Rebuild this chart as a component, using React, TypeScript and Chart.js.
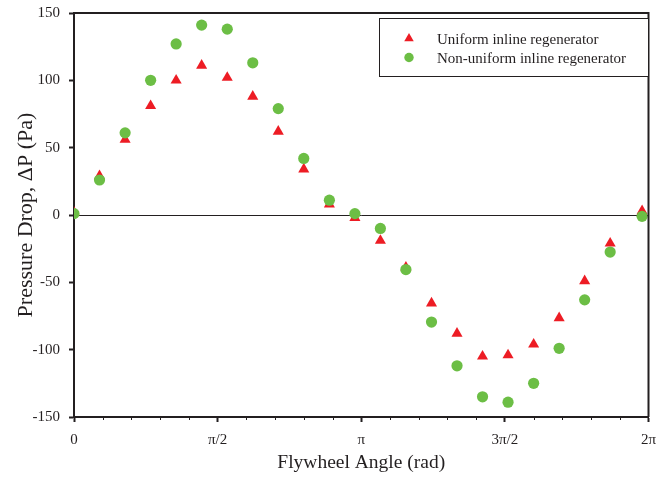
import React, { useEffect, useRef } from "react";
import { Chart, registerables } from "chart.js";

Chart.register(...registerables);

const angleRad = [0, 0.279, 0.559, 0.838, 1.117, 1.396, 1.676, 1.955, 2.234, 2.513, 2.793, 3.072, 3.351, 3.63, 3.91, 4.189, 4.468, 4.747, 5.027, 5.306, 5.585, 5.864, 6.213];
const uniformDP = [2, 29, 56, 81, 100, 111, 102, 88, 62, 34, 8, -2, -19, -39, -65.5, -88, -105, -104, -96, -76.5, -49, -21, 3];
const nonUniformDP = [1, 26, 61, 100, 127, 141, 138, 113, 79, 42, 11, 1, -10, -40.5, -79.5, -112, -135, -139, -125, -99, -63, -27.5, -1];
const xTickValues = [0, Math.PI / 2, Math.PI, (3 * Math.PI) / 2, 2 * Math.PI];
const xTickLabels = ["0", "π/2", "π", "3π/2", "2π"];
const xMinorStep = Math.PI / 10;
const seriesNames = ["Uniform inline regenerator", "Non-uniform inline regenerator"];

const RED = "#ED1C24";
const GREEN = "#6CBE45";
const INK = "#231F20";
const FONT = "'Liberation Serif', 'Times New Roman', serif";

const framePlugin = {
  id: "frameAndLegend",
  afterDraw(chart: any) {
    const { ctx, chartArea } = chart;
    const xs = chart.scales.x;
    ctx.save();
    // minor ticks on x axis
    ctx.strokeStyle = INK;
    ctx.lineWidth = 1;
    for (let i = 1; i < 20; i++) {
      if (i % 5 === 0) continue;
      const px = Math.round(xs.getPixelForValue(i * xMinorStep)) + 0.5;
      ctx.beginPath();
      ctx.moveTo(px, chartArea.bottom);
      ctx.lineTo(px, chartArea.bottom + 3);
      ctx.stroke();
    }
    // top and right border
    ctx.lineWidth = 2;
    ctx.beginPath();
    ctx.moveTo(chartArea.left, chartArea.top);
    ctx.lineTo(chartArea.right, chartArea.top);
    ctx.lineTo(chartArea.right, chartArea.bottom);
    ctx.stroke();

    // legend box
    const bx = 379.5, by = 18.5, bw = chartArea.right - 379.5, bh = 58;
    ctx.fillStyle = "#fff";
    ctx.fillRect(bx, by, bw, bh);
    ctx.lineWidth = 1;
    ctx.strokeStyle = INK;
    ctx.strokeRect(bx, by, bw, bh);
    // markers
    const mx = 409;
    ctx.fillStyle = RED;
    const r = 5.5;
    const ty = 38.5;
    ctx.beginPath();
    ctx.moveTo(mx, ty - r);
    ctx.lineTo(mx + Math.sin((2 * Math.PI) / 3) * r, ty + r / 2);
    ctx.lineTo(mx - Math.sin((2 * Math.PI) / 3) * r, ty + r / 2);
    ctx.closePath();
    ctx.fill();
    ctx.fillStyle = GREEN;
    ctx.beginPath();
    ctx.arc(mx, 57.5, 4.7, 0, Math.PI * 2);
    ctx.fill();
    ctx.fillStyle = INK;
    ctx.font = `15px ${FONT}`;
    ctx.textBaseline = "alphabetic";
    ctx.textAlign = "left";
    ctx.fillText(seriesNames[0], 437, 43.5);
    ctx.fillText(seriesNames[1], 437, 62.5);
    ctx.restore();
  },
};

export default function App() {
  const ref = useRef<HTMLCanvasElement | null>(null);
  useEffect(() => {
    if (!ref.current) return;
    const chart = new Chart(ref.current, {
      type: "scatter",
      data: {
        datasets: [
          {
            label: seriesNames[0],
            data: angleRad.map((x, i) => ({ x, y: uniformDP[i] })),
            pointStyle: "triangle",
            pointRadius: 6.4,
            pointHoverRadius: 6.4,
            backgroundColor: RED,
            borderColor: RED,
            borderWidth: 0,
            order: 1,
          },
          {
            label: seriesNames[1],
            data: angleRad.map((x, i) => ({ x, y: nonUniformDP[i] })),
            pointStyle: "circle",
            pointRadius: 5.6,
            pointHoverRadius: 5.6,
            backgroundColor: GREEN,
            borderColor: GREEN,
            borderWidth: 0,
            order: 0,
          },
        ],
      },
      options: {
        animation: false,
        responsive: false,
        layout: { padding: { top: 13, right: 23.5, left: 0, bottom: 0 } },
        plugins: { legend: { display: false }, tooltip: { enabled: false } },
        scales: {
          x: {
            type: "linear",
            position: "bottom",
            min: 0,
            max: 2 * Math.PI,
            afterBuildTicks: (s: any) => {
              s.ticks = xTickValues.map((v) => ({ value: v }));
            },
            afterFit: (s: any) => {
              s.height = 60;
              s.paddingLeft = 0;
              s.paddingRight = 0;
            },
            ticks: {
              autoSkip: false,
              maxRotation: 0,
              padding: 9,
              color: INK,
              font: { family: FONT, size: 15 },
              callback: (_v: any, i: number) => xTickLabels[i],
            },
            grid: {
              drawOnChartArea: false,
              drawTicks: true,
              tickLength: 5,
              tickWidth: 2,
              tickColor: INK,
            },
            border: { display: true, width: 2, color: INK },
            title: {
              display: true,
              text: "Flywheel Angle (rad)",
              color: INK,
              font: { family: FONT, size: 19.5 },
              padding: { top: 0, bottom: 2 },
            },
          },
          y: {
            type: "linear",
            min: -150,
            max: 150,
            afterFit: (s: any) => {
              s.width = 74;
              s.paddingTop = 0;
              s.paddingBottom = 0;
            },
            ticks: {
              stepSize: 50,
              padding: 9,
              color: INK,
              font: { family: FONT, size: 15 },
            },
            grid: {
              drawOnChartArea: true,
              color: (c: any) => (c.tick && c.tick.value === 0 ? INK : "rgba(0,0,0,0)"),
              lineWidth: 1,
              tickLength: 5,
              tickWidth: 2,
              tickColor: INK,
            },
            border: { display: true, width: 2, color: INK },
            title: {
              display: true,
              text: "Pressure Drop, ΔP (Pa)",
              color: INK,
              font: { family: FONT, size: 22 },
              padding: { top: 13, bottom: 0 },
            },
          },
        },
      },
      plugins: [framePlugin],
    });
    return () => chart.destroy();
  }, []);
  return (
    <div style={{ position: "absolute", left: 0, top: 0, width: 672, height: 477, background: "#fff" }}>
      <canvas ref={ref} width={672} height={477} style={{ display: "block" }} />
    </div>
  );
}
